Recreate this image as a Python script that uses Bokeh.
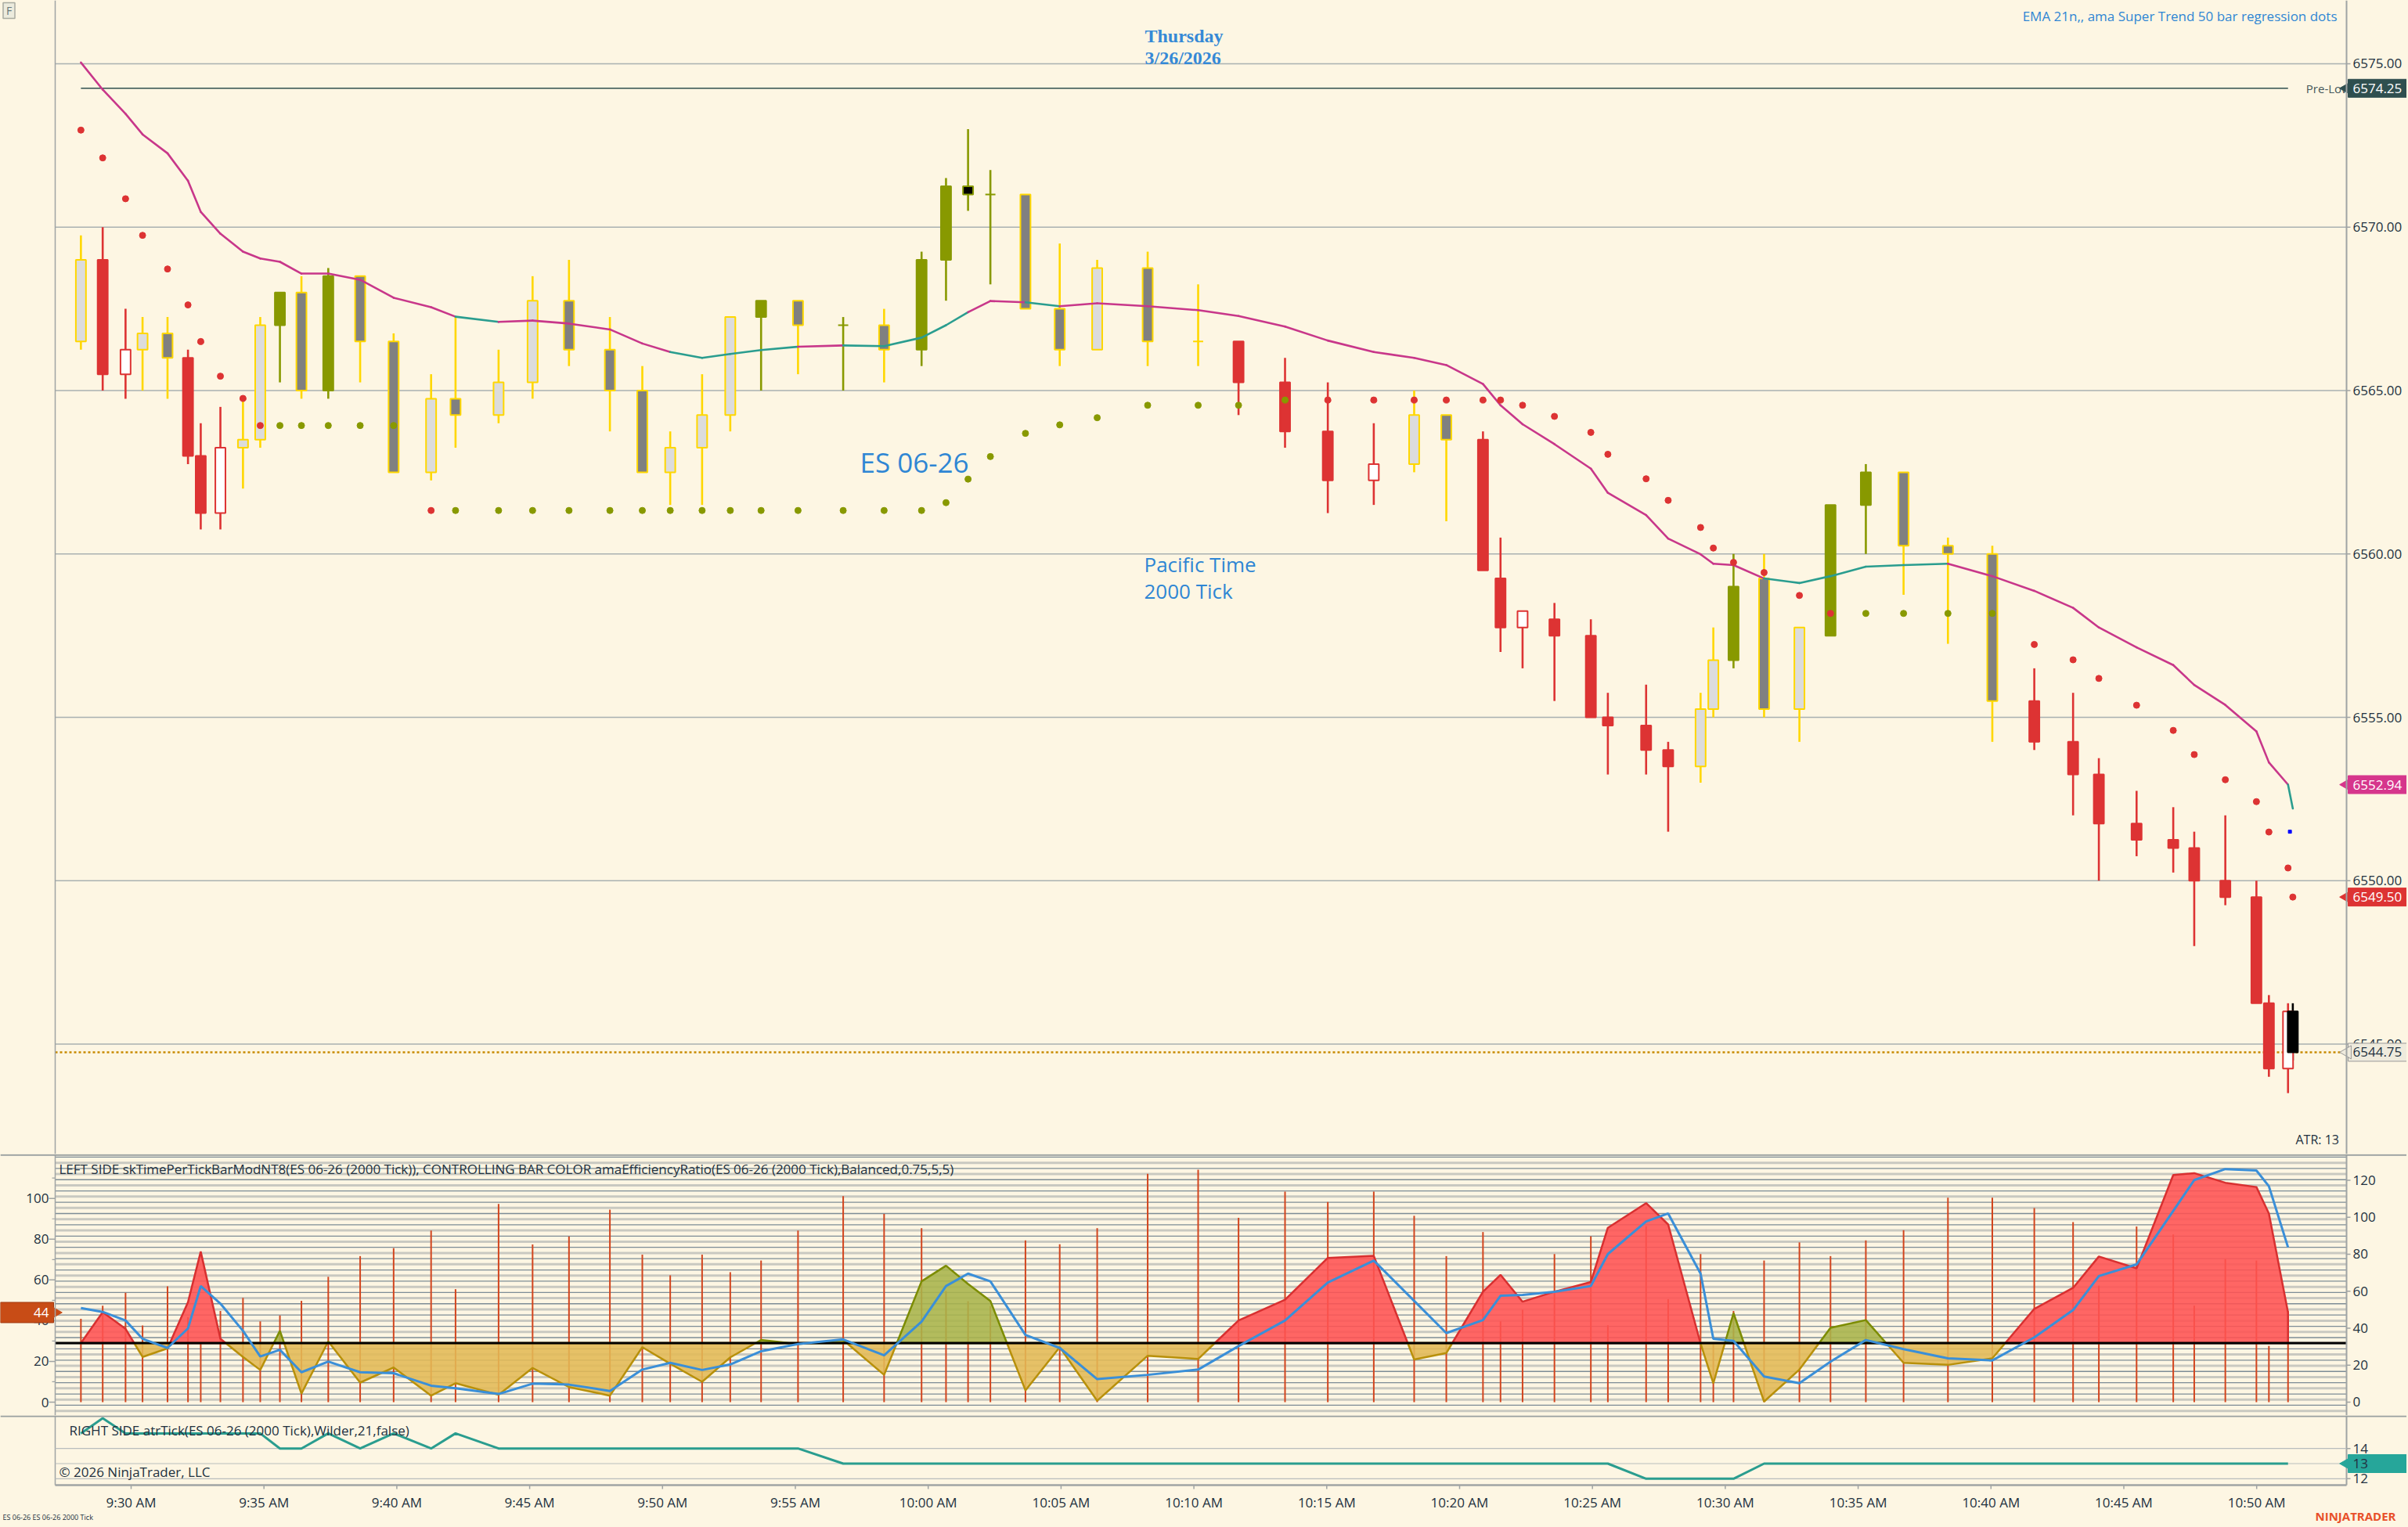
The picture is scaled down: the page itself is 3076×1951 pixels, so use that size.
import numpy as np
from bokeh.plotting import figure
from bokeh.layouts import column
from bokeh.models import Range1d, Span
from bokeh.embed import file_html
from bokeh.resources import INLINE
from bokeh.core.properties import value

# ------------------------------------------------------------------ data
# bar time in minutes after 9:30 AM (time based x axis of the tick bars)
bar_min = [-1.89, -1.07, -0.21, 0.43, 1.37, 2.14, 2.62, 3.36, 4.21, 4.86,
           5.60, 6.41, 7.42, 8.62, 9.88, 11.29, 12.21, 13.83, 15.11, 16.48,
           18.02, 19.24, 20.29, 21.49, 22.55, 23.71, 25.10, 26.80, 28.34, 29.75,
           30.67, 31.50, 32.34, 33.66, 34.95, 36.36, 38.26, 40.16, 41.68, 43.43,
           45.04, 46.77, 48.29, 49.50, 50.88, 51.54, 52.37, 53.57, 54.94, 55.58,
           57.02, 57.85, 59.07, 59.55, 60.31, 61.46, 62.79, 63.96, 65.29, 66.71,
           68.38, 70.05, 71.63, 73.09, 74.06, 75.48, 76.86, 77.65, 78.82, 79.99,
           80.46, 81.18, 81.36]
bar_open = [6566.50, 6569.00, 6565.50, 6566.25, 6566.75, 6566.00, 6563.00, 6561.25, 6563.25, 6563.50,
            6567.00, 6568.00, 6565.00, 6568.50, 6566.50, 6562.50, 6564.75, 6564.25, 6565.25, 6567.75,
            6566.25, 6565.00, 6562.50, 6563.25, 6564.25, 6567.25, 6567.75, 6567.00, 6567.00, 6566.25,
            6569.00, 6571.25, 6571.00, 6571.00, 6567.50, 6566.25, 6568.75, 6566.50, 6566.50, 6565.25,
            6563.75, 6562.25, 6562.75, 6564.25, 6563.50, 6559.25, 6557.75, 6558.00, 6557.50, 6555.00,
            6554.75, 6554.00, 6553.50, 6555.25, 6556.75, 6559.25, 6555.25, 6557.50, 6561.50, 6562.50,
            6560.25, 6560.00, 6555.50, 6554.25, 6553.25, 6551.75, 6551.25, 6551.00, 6550.00, 6549.50,
            6546.25, 6544.25, 6546.00]
bar_high = [6569.75, 6570.00, 6567.50, 6567.25, 6567.25, 6566.25, 6564.00, 6564.50, 6564.75, 6567.25,
            6568.00, 6568.50, 6568.75, 6568.50, 6566.75, 6565.50, 6567.25, 6566.25, 6568.50, 6569.00,
            6567.25, 6565.75, 6563.75, 6565.50, 6567.25, 6567.75, 6567.75, 6567.25, 6567.50, 6569.25,
            6571.50, 6573.00, 6571.75, 6571.00, 6569.50, 6569.00, 6569.25, 6568.25, 6566.50, 6566.00,
            6565.25, 6564.00, 6565.00, 6564.25, 6563.75, 6560.50, 6558.25, 6558.50, 6558.00, 6555.75,
            6556.00, 6554.25, 6555.75, 6557.75, 6560.00, 6560.00, 6557.75, 6561.50, 6562.75, 6562.50,
            6560.50, 6560.25, 6556.50, 6555.75, 6553.75, 6552.75, 6552.25, 6551.50, 6552.00, 6550.00,
            6546.50, 6546.25, 6546.25]
bar_low = [6566.25, 6565.00, 6564.75, 6565.00, 6564.75, 6562.75, 6560.75, 6560.75, 6562.00, 6563.25,
           6565.25, 6564.75, 6564.75, 6565.25, 6562.50, 6562.25, 6563.25, 6564.00, 6564.75, 6565.75,
           6563.75, 6562.50, 6561.50, 6561.50, 6563.75, 6565.00, 6565.50, 6565.00, 6565.25, 6565.75,
           6567.75, 6570.50, 6568.25, 6567.50, 6565.75, 6566.25, 6565.75, 6565.75, 6564.25, 6563.25,
           6561.25, 6561.50, 6562.50, 6561.00, 6559.50, 6557.00, 6556.50, 6555.50, 6555.00, 6553.25,
           6553.25, 6551.50, 6553.00, 6555.00, 6556.50, 6555.00, 6554.25, 6557.50, 6560.00, 6558.75,
           6557.25, 6554.25, 6554.00, 6552.00, 6550.00, 6550.75, 6550.25, 6548.00, 6549.25, 6546.25,
           6544.00, 6543.50, 6544.50]
bar_close = [6569.00, 6565.50, 6566.25, 6566.75, 6566.00, 6563.00, 6561.25, 6563.25, 6563.50, 6567.00,
             6568.00, 6565.00, 6568.50, 6566.50, 6562.50, 6564.75, 6564.25, 6565.25, 6567.75, 6566.25,
             6565.00, 6562.50, 6563.25, 6564.25, 6567.25, 6567.75, 6567.00, 6567.00, 6566.25, 6569.00,
             6571.25, 6571.00, 6571.00, 6567.50, 6566.25, 6568.75, 6566.50, 6566.50, 6565.25, 6563.75,
             6562.25, 6562.75, 6564.25, 6563.50, 6559.50, 6557.75, 6558.25, 6557.50, 6555.00, 6554.75,
             6554.00, 6553.50, 6555.25, 6556.75, 6559.00, 6555.25, 6557.75, 6561.50, 6562.50, 6560.25,
             6560.00, 6555.50, 6554.25, 6553.25, 6551.75, 6551.25, 6551.00, 6550.00, 6549.50, 6546.25,
             6544.25, 6546.00, 6544.75]
# efficiency-ratio regime of each bar: N neutral, D down, U up, C current bar
bar_regime = list("NDDNNDDDNN" "UNUNNNNNNN" "NNNNNUNUNU" "UUUNNNNNDD"
                  "DDNNDDDDDD" "DDNNUNNUUN" "NNDDDDDDDD" "DDC")
ema21 = [6575.04, 6574.21, 6573.47, 6572.84, 6572.26, 6571.42, 6570.47, 6569.80, 6569.25, 6569.04,
         6568.94, 6568.58, 6568.58, 6568.39, 6567.84, 6567.55, 6567.26, 6567.10, 6567.14, 6567.05,
         6566.87, 6566.44, 6566.18, 6566.00, 6566.12, 6566.24, 6566.34, 6566.38, 6566.36, 6566.62,
         6567.00, 6567.40, 6567.74, 6567.70, 6567.58, 6567.67, 6567.58, 6567.46, 6567.28, 6566.96,
         6566.53, 6566.18, 6566.00, 6565.78, 6565.20, 6564.55, 6563.97, 6563.36, 6562.61, 6561.87,
         6561.19, 6560.47, 6559.99, 6559.70, 6559.66, 6559.25, 6559.11, 6559.32, 6559.61, 6559.66,
         6559.70, 6559.32, 6558.87, 6558.35, 6557.75, 6557.14, 6556.60, 6555.99, 6555.38, 6554.57,
         6553.62, 6552.94, 6552.21]
# colour of the EMA segment that ends at each bar: P pink, T teal
ema_seg = list("PPPPPPPPPP" "PPPPPPPTPP" "PPPTTTTPTT" "TTPPTPPPPP"
               "PPPPPPPPPP" "PPPPPPTTTT" "TPPPPPPPPP" "PPT")
st_val = [6572.97, 6572.12, 6570.87, 6569.75, 6568.72, 6567.62, 6566.50, 6565.44, 6564.76, 6563.93,
          6563.93, 6563.93, 6563.93, 6563.93, 6563.93,
          6561.33, 6561.33, 6561.33, 6561.33, 6561.33, 6561.33, 6561.33, 6561.33, 6561.33, 6561.33,
          6561.33, 6561.33, 6561.33, 6561.33, 6561.33,
          6561.57, 6562.29, 6562.98, 6563.69, 6563.95, 6564.17, 6564.55, 6564.55, 6564.55, 6564.71,
          6564.71, 6564.71, 6564.71, 6564.71, 6564.71, 6564.71,
          6564.55, 6564.21, 6563.72, 6563.05, 6562.30, 6561.64, 6560.81, 6560.18, 6559.74, 6559.43,
          6558.73, 6558.18,
          6558.18, 6558.18, 6558.18, 6558.18,
          6557.23, 6556.76, 6556.19, 6555.37, 6554.60, 6553.86, 6553.09, 6552.42, 6551.49, 6550.39,
          6549.50]
st_dir = list("R" * 10 + "G" * 5 + "R" + "G" * 24 + "R" * 18 + "G" * 4 + "R" * 11)
regression_mark = 6551.50
pre_low = 6574.25
price_ticks = [6545.0, 6550.0, 6555.0, 6560.0, 6565.0, 6570.0, 6575.0]
price_tags = [6574.25, 6552.94, 6549.50, 6544.75]

# lower panel 1: seconds per bar (right scale) and efficiency ratio (left scale)
tpb = [45.1, 52.2, 59.1, 41.5, 62.6, 46.0, 32.0, 49.3, 56.4, 43.7,
       46.9, 54.8, 67.8, 79.0, 83.3, 92.8, 61.1, 107.2, 85.3, 89.6,
       104.1, 79.8, 68.6, 79.8, 70.3, 76.6, 92.8, 111.4, 101.8, 94.1,
       60.1, 54.6, 52.0, 87.5, 85.4, 94.1, 123.5, 125.7, 99.7, 113.9,
       108.3, 113.9, 100.8, 79.0, 92.0, 43.7, 50.0, 80.1, 89.7, 41.6,
       95.2, 55.7, 80.1, 32.0, 49.3, 76.6, 86.4, 79.0, 87.5, 93.0,
       110.6, 110.6, 105.0, 97.4, 63.0, 95.0, 90.7, 52.2, 77.4, 76.6,
       30.4, 49.3]
er = [29.0, 44.2, 36.0, 22.2, 26.4, 49.1, 73.9, 31.1, 22.2, 15.8,
      35.0, 4.2, 29.8, 9.6, 17.0, 3.2, 9.3, 3.6, 16.8, 7.4,
      3.2, 27.0, 18.9, 10.0, 22.0, 30.5, 28.5, 30.5, 13.4, 59.3,
      67.0, 58.0, 49.7, 5.8, 27.0, 0.7, 22.8, 21.2, 40.1, 50.3,
      70.8, 71.8, 20.9, 24.1, 54.2, 62.5, 49.3, 54.2, 59.0, 85.6,
      97.7, 87.2, 28.8, 9.3, 43.7, 0.3, 16.0, 36.5, 40.3, 19.3,
      18.3, 21.5, 45.8, 56.1, 71.5, 65.7, 111.5, 112.4, 107.7, 105.6,
      92.6, 44.0]
er_col = list("RRRRRRRRRR" "GRG" "RRRRRRRRRRRR" "GGGGGGGG" "RRRRR"
              "RRRRRRRRRRRRRRRR" "GGGGG" "RRR" "RRRRRRRRRR")
er_smooth = [46.2, 44.3, 40.1, 31.1, 26.6, 36.2, 57.0, 48.4, 35.0, 22.4,
             25.7, 14.7, 19.9, 14.7, 14.2, 8.1, 6.8, 4.0, 9.1, 8.6,
             5.5, 16.0, 19.3, 15.8, 18.5, 25.0, 28.5, 30.8, 23.0, 39.5,
             57.0, 63.1, 59.3, 33.0, 26.6, 11.3, 13.4, 16.0, 27.5, 40.1,
             58.7, 69.5, 49.7, 33.9, 40.3, 52.2, 52.6, 54.2, 57.0, 72.7,
             88.7, 92.6, 63.1, 31.1, 30.1, 12.6, 9.3, 19.9, 30.5, 26.0,
             21.5, 20.5, 31.8, 45.2, 61.9, 67.6, 93.9, 109.0, 114.4, 113.7,
             106.0, 76.0]
er_threshold = 29.0
left_ticks = [0, 20, 40, 60, 80, 100]
right_ticks = [0, 20, 40, 60, 80, 100, 120]
# lower panel 2: ATR
atr = [15, 16] + [15] * 8 + [14, 14, 15, 14, 15, 14, 15] + [14] * 10 + [13] * 23 + [12] * 5 + [13] * 17
atr_ticks = [12, 13, 14]

time_tick_min = [0, 5, 10, 15, 20, 25, 30, 35, 40, 45, 50, 55, 60, 65, 70, 75, 80]
time_tick_labels = ["9:30 AM", "9:35 AM", "9:40 AM", "9:45 AM", "9:50 AM", "9:55 AM", "10:00 AM",
                    "10:05 AM", "10:10 AM", "10:15 AM", "10:20 AM", "10:25 AM", "10:30 AM",
                    "10:35 AM", "10:40 AM", "10:45 AM", "10:50 AM"]

# ------------------------------------------------------------------ style / geometry
BG = "#FDF6E3"
FONT = "Open Sans"
TXT = "#22313F"
AXC = "#A0A4A4"
GOLD = "#FFD700"
RED = "#DD3333"
OLIVE = "#889900"
PINK = "#C8378A"
TEAL = "#2A9D8F"
BLUE_TXT = "#2F86D4"
W = 3074
PX_PER_MIN = 33.94
X0_PX = 167.0          # pixel of 9:30


def px2t(px):
    return (px - X0_PX) / PX_PER_MIN


T_LEFT = px2t(70)      # left edge of chart area
T_AXIS = px2t(2997)    # right price axis
xr = Range1d(px2t(0), px2t(W))


def make_fig(h, yr):
    p = figure(frame_width=W, frame_height=h, x_range=xr, y_range=yr,
               x_axis_location=None, y_axis_location=None,
               toolbar_location=None, output_backend="svg",
               min_border_left=0, min_border_right=0, min_border_top=0, min_border_bottom=0,
               background_fill_color=BG, border_fill_color=BG, outline_line_color=None)
    p.grid.visible = False
    return p


def txt(p, x, y, text, size="17px", color=TXT, font=FONT, align="left", baseline="middle",
        style="normal", **kw):
    p.text(x=[x], y=[y], text=[text], text_font=value(font), text_font_size=size, text_color=color,
           text_align=align, text_baseline=baseline, text_font_style=style, **kw)


def frame_lines(p):
    p.add_layout(Span(location=T_LEFT, dimension="height", line_color=AXC, line_width=1.5))
    p.add_layout(Span(location=T_AXIS, dimension="height", line_color=AXC, line_width=2))


def right_axis(p, ticks, labels, **kw):
    n = len(ticks)
    p.segment(x0=[T_AXIS] * n, y0=ticks, x1=[px2t(3002)] * n, y1=ticks, line_color=AXC,
              line_width=1.5, **kw)
    p.text(x=[px2t(3005)] * n, y=ticks, text=labels, text_font=value(FONT), text_font_size="17px",
           text_color=TXT, text_baseline="middle", **kw)


def right_tag(p, y, text, bg, fg, edge, **kw):
    p.rect(x=[px2t(3037.5)], y=[y], width=77 / PX_PER_MIN, height=23, height_units="screen",
           fill_color=bg, line_color=edge, line_width=1, **kw)
    p.scatter(x=[px2t(2998)], y=[y], marker="triangle", angle=np.pi / 2, size=17,
              fill_color=bg, line_color=edge, **kw)
    p.text(x=[px2t(3005)], y=[y], text=[text], text_font=value(FONT), text_font_size="17px",
           text_color=fg, text_baseline="middle", **kw)


# ------------------------------------------------------------------ main price panel
p1 = make_fig(1474, Range1d(6541.635, 6576.94))
frame_lines(p1)
ng = len(price_ticks)
p1.segment(x0=[T_LEFT] * ng, y0=price_ticks, x1=[T_AXIS] * ng, y1=price_ticks,
           line_color="#A9B1B1", line_width=1.5)

o = np.array(bar_open); c = np.array(bar_close)
fills, edges, wicks = [], [], []
for reg, oo, cc in zip(bar_regime, o, c):
    up = cc >= oo
    if reg == "N":
        fills.append("#DCDCDC" if up else "#808080"); edges.append(GOLD); wicks.append(GOLD)
    elif reg == "D":
        fills.append("#FFFFFF" if up else RED); edges.append(RED); wicks.append(RED)
    elif reg == "U":
        fills.append(OLIVE if up else "#000000"); edges.append(OLIVE); wicks.append(OLIVE)
    else:
        fills.append("#000000"); edges.append("#000000"); wicks.append("#000000")

# pre-low line + label
p1.segment(x0=[bar_min[0]], y0=[pre_low], x1=[bar_min[-2]], y1=[pre_low], line_color="#2F4F4F", line_width=1.5)
txt(p1, bar_min[-1] + 0.5, pre_low, "Pre-Low", size="15px", color="#46575A")
# current price dotted line
p1.segment(x0=[T_LEFT], y0=[bar_close[-1]], x1=[T_AXIS], y1=[bar_close[-1]], line_color="#C88A00",
           line_width=2.5, line_dash="3 3")

p1.segment(x0=bar_min, y0=bar_low, x1=bar_min, y1=bar_high, line_color=wicks, line_width=2.6)
p1.vbar(x=bar_min, width=0.38, top=np.maximum(o, c), bottom=np.minimum(o, c),
        fill_color=fills, line_color=edges, line_width=2)

ema_cols = [TEAL if s == "T" else PINK for s in ema_seg[1:]]
p1.segment(x0=bar_min[:-1], y0=ema21[:-1], x1=bar_min[1:], y1=ema21[1:], line_color=ema_cols,
           line_width=2.6, line_cap="round")
p1.scatter(bar_min, st_val, size=8, color=[RED if d == "R" else OLIVE for d in st_dir])
p1.scatter([bar_min[-2] + 0.07], [regression_mark], marker="square", size=4, color="#0000FF")

txt(p1, px2t(1462), 6575.86, "Thursday", size="24px", color="#3589D6", font="Liberation Serif",
    style="bold")
txt(p1, px2t(1462), 6575.17, "3/26/2026", size="24px", color="#3589D6", font="Liberation Serif",
    style="bold")
txt(p1, px2t(2985), 6576.46, "EMA 21n,, ama Super Trend 50 bar regression dots", size="17px",
    color=BLUE_TXT, align="right")
txt(p1, px2t(1098), 6562.81, "ES 06-26", size="35px", color=BLUE_TXT)
txt(p1, px2t(1461), 6559.69, "Pacific Time", size="26px", color=BLUE_TXT)
txt(p1, px2t(1461), 6558.86, "2000 Tick", size="26px", color=BLUE_TXT)
txt(p1, px2t(2932), 6542.09, "ATR: 13", size="16px", color=TXT)
# "F" button at the top left
p1.rect(x=[px2t(11)], y=[6576.63], width=15 / PX_PER_MIN, height=20, height_units="screen",
        fill_color="#ECEBDD", line_color="#A8AAA0", line_width=1.5)
txt(p1, px2t(11), 6576.63, "F", size="14px", color="#667777", align="center")

right_axis(p1, price_ticks, [f"{v:.2f}" for v in price_ticks])
tag_styles = [("#2F4F4F", "#FFFFFF", "#2F4F4F"), ("#D6368C", "#FFFFFF", "#D6368C"),
              ("#DD3333", "#FFFFFF", "#DD3333"), ("#EFEBDD", TXT, "#9A9A9A")]
for val, (bgc, fg, ec) in zip(price_tags, tag_styles):
    right_tag(p1, val, f"{val:.2f}", bgc, fg, ec)

# ------------------------------------------------------------------ indicator panel
p2 = make_fig(334, Range1d(-7.20, 134.18))
p2.extra_y_ranges = {"er": Range1d(-6.53, 121.78)}
frame_lines(p2)

# dense horizontal level lines
thr_right = 31.87
levels = [thr_right + 3.05 * k for k in range(-12, 34) if -7 < thr_right + 3.05 * k < 133.5]
lv_col = ["#C9C9C1" if (i % 2 == 0) else "#7D8C96" for i in range(len(levels))]
lv_w = [3 if (i % 2 == 0) else 1.3 for i in range(len(levels))]
p2.segment(x0=[T_LEFT] * len(levels), y0=levels, x1=[T_AXIS] * len(levels), y1=levels,
           line_color=lv_col, line_width=lv_w)

t72 = bar_min[:len(tpb)]
p2.segment(x0=t72, y0=[0] * len(tpb), x1=t72, y1=tpb, line_color="#D2451E", line_width=2)

# efficiency ratio pieces split at threshold
xs_p, ys_p, fc, lc = [], [], [], []
cur_x, cur_y, cur_i = [t72[0]], [er[0]], [0]
pieces = []
for i in range(1, len(er)):
    y0, y1 = er[i - 1], er[i]
    if (y0 - er_threshold) * (y1 - er_threshold) < 0:
        xc = t72[i - 1] + (er_threshold - y0) / (y1 - y0) * (t72[i] - t72[i - 1])
        cur_x.append(xc); cur_y.append(er_threshold)
        pieces.append((cur_x, cur_y, cur_i))
        cur_x, cur_y, cur_i = [xc], [er_threshold], []
    cur_x.append(t72[i]); cur_y.append(er[i]); cur_i.append(i)
pieces.append((cur_x, cur_y, cur_i))
for px, py, idx in pieces:
    vals = [er[j] for j in idx]
    above = max(vals) > er_threshold
    xs_p.append(px + [px[-1], px[0]])
    ys_p.append(py + [er_threshold, er_threshold])
    if not above:
        fc.append("#E2B955"); lc.append("#B8900A")
    else:
        jmax = idx[int(np.argmax(vals))]
        if er_col[jmax] == "G":
            fc.append("#A8B44A"); lc.append("#7C8C00")
        else:
            fc.append("#FF5252"); lc.append("#D83030")
p2.patches(xs=xs_p, ys=ys_p, fill_color=fc, line_color=lc, fill_alpha=0.88, line_width=2.5,
           y_range_name="er")
p2.segment(x0=[T_LEFT], y0=[er_threshold], x1=[T_AXIS], y1=[er_threshold], line_color="#000000",
           line_width=3, y_range_name="er")
p2.line(t72, er_smooth, line_color="#3A8FD8", line_width=3, y_range_name="er")

# left (efficiency ratio) scale
minor = [v + 10 for v in left_ticks]
p2.segment(x0=[px2t(62)] * len(left_ticks), y0=left_ticks, x1=[T_LEFT] * len(left_ticks), y1=left_ticks,
           line_color=AXC, line_width=1.5, y_range_name="er")
p2.segment(x0=[px2t(66)] * len(minor), y0=minor, x1=[T_LEFT] * len(minor), y1=minor,
           line_color=AXC, line_width=1.2, y_range_name="er")
p2.text(x=[px2t(62)] * len(left_ticks), y=left_ticks, text=[str(v) for v in left_ticks],
        text_font=value(FONT), text_font_size="17px", text_color=TXT, text_align="right",
        text_baseline="middle", y_range_name="er")
# left tag with the last efficiency ratio value
p2.rect(x=[px2t(34)], y=[er[-1]], width=68 / PX_PER_MIN, height=26, height_units="screen",
        fill_color="#C84C16", line_color="#A03A10", line_width=1, y_range_name="er")
p2.scatter(x=[px2t(69)], y=[er[-1]], marker="triangle", angle=-np.pi / 2, size=17,
           fill_color="#C84C16", line_color="#C84C16", y_range_name="er")
p2.text(x=[px2t(62)], y=[er[-1]], text=[f"{er[-1]:.0f}"], text_font=value(FONT), text_font_size="17px",
        text_color="#FFFFFF", text_align="right", text_baseline="middle", y_range_name="er")

right_axis(p2, right_ticks, [str(v) for v in right_ticks])
txt(p2, px2t(75), 126.1, "LEFT SIDE skTimePerTickBarModNT8(ES 06-26 (2000 Tick)), CONTROLLING BAR COLOR "
    "amaEfficiencyRatio(ES 06-26 (2000 Tick),Balanced,0.75,5,5)", size="17px")
p2.add_layout(Span(location=133.6, dimension="width", line_color="#9AA0A0", line_width=2))

# ------------------------------------------------------------------ ATR panel + time axis + footer
ATR_PX = 19.3          # pixels per ATR unit
ATR13_PY = 1869.5      # page y of ATR 13


def py2atr(py):
    return 13 - (py - ATR13_PY) / ATR_PX


p3 = make_fig(142, Range1d(py2atr(1950), py2atr(1808)))
y_axis_bottom = py2atr(1897)
y_top = py2atr(1808)
p3.segment(x0=[T_LEFT, T_AXIS], y0=[y_axis_bottom] * 2, x1=[T_LEFT, T_AXIS], y1=[y_top] * 2,
           line_color=AXC, line_width=[1.5, 2])
p3.segment(x0=[T_LEFT] * len(atr_ticks), y0=atr_ticks, x1=[T_AXIS] * len(atr_ticks), y1=atr_ticks,
           line_color="#B9BDBD", line_width=1.2)
p3.line(t72, atr, line_color=TEAL, line_width=3)
p3.add_layout(Span(location=py2atr(1809), dimension="width", line_color="#9AA0A0", line_width=2))
# time axis
p3.segment(x0=[T_LEFT], y0=[y_axis_bottom], x1=[T_AXIS], y1=[y_axis_bottom], line_color=AXC, line_width=2.5)
nt = len(time_tick_min)
p3.segment(x0=time_tick_min, y0=[y_axis_bottom] * nt, x1=time_tick_min, y1=[py2atr(1902)] * nt,
           line_color=AXC, line_width=1.5)
p3.text(x=time_tick_min, y=[py2atr(1919)] * nt, text=time_tick_labels, text_font=value(FONT),
        text_font_size="17px", text_color=TXT, text_align="center", text_baseline="middle")

right_axis(p3, atr_ticks, [str(v) for v in atr_ticks])
right_tag(p3, atr[-1], f"{atr[-1]}", "#26A69A", TXT, "#26A69A")
txt(p3, px2t(88), py2atr(1827), "RIGHT SIDE  atrTick(ES 06-26 (2000 Tick),Wilder,21,false)", size="17px")
txt(p3, px2t(75), py2atr(1880), "\u00a9 2026 NinjaTrader, LLC", size="17px")
txt(p3, px2t(3), py2atr(1938), "ES 06-26 ES 06-26 2000 Tick", size="9px", color=TXT)
txt(p3, px2t(3060), py2atr(1936), "NINJATRADER", size="15px", color="#E8502A", align="right",
    style="bold")

layout = column(p1, p2, p3, spacing=0)
html = file_html(layout, INLINE)
html = html.replace("<head>", "<head><style>body{background:#FDF6E3;}</style>", 1)
open("out.html", "w").write(html)
